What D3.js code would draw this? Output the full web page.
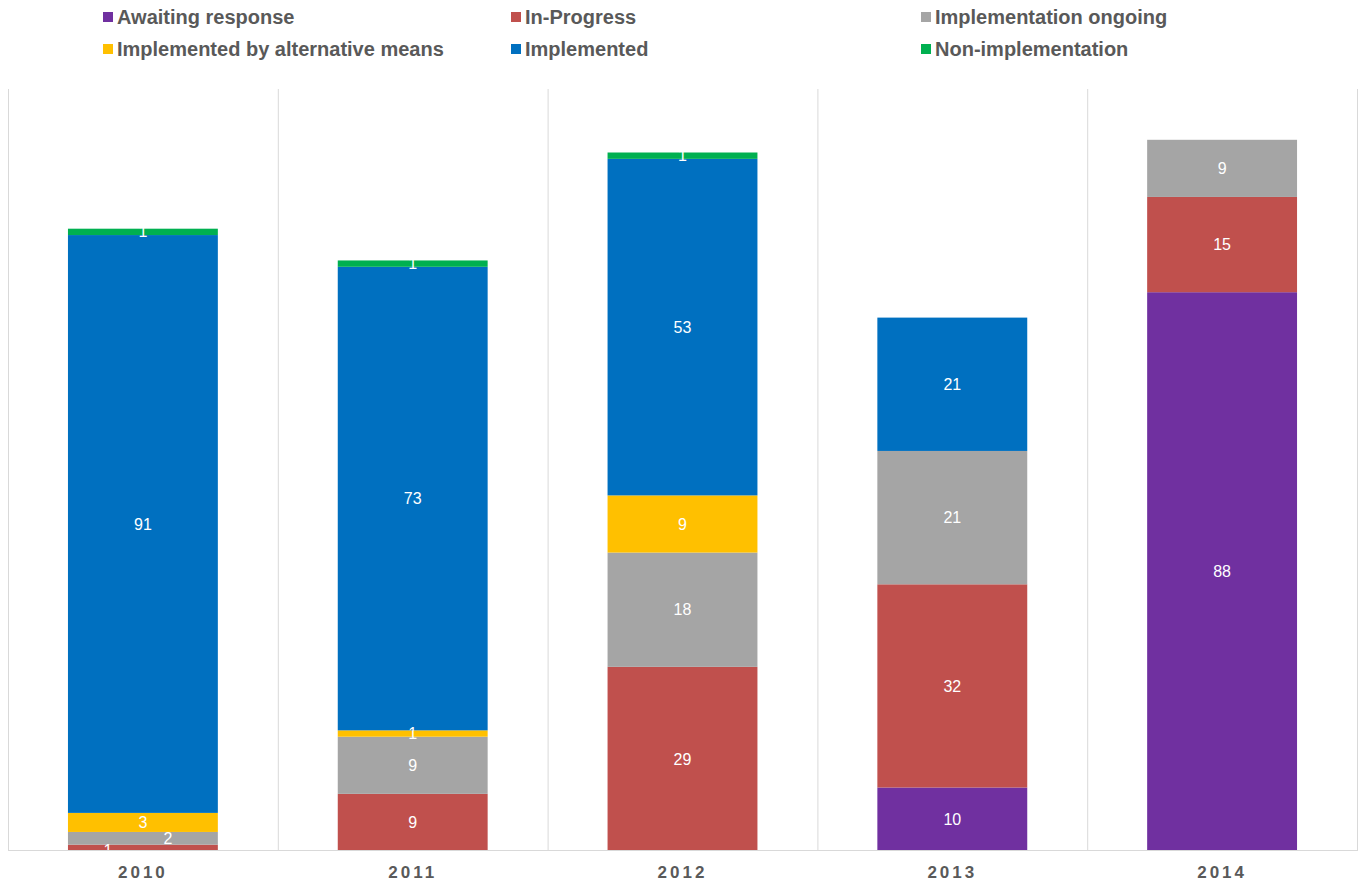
<!DOCTYPE html>
<html><head><meta charset="utf-8">
<script src="https://cdn.jsdelivr.net/npm/d3@7"></script>
<style>body{margin:0;background:#fff;}svg{display:block;}</style>
</head><body><svg id="c" width="1363" height="884"></svg>
<script>
const years = ["2010","2011","2012","2013","2014"];
const seriesNames = ["Awaiting response","In-Progress","Implementation ongoing","Implemented by alternative means","Implemented","Non-implementation"];
const colors = ["#7030A0","#C0504D","#A5A5A5","#FFC000","#0070C0","#00B050"];
const awaiting = [0,0,0,10,88];
const inProgress = [1,9,29,32,15];
const ongoing = [2,9,18,21,9];
const altMeans = [3,1,9,0,0];
const implemented = [91,73,53,21,0];
const nonImpl = [1,1,1,0,0];

(function(){
const seriesVals = [awaiting,inProgress,ongoing,altMeans,implemented,nonImpl];
const rows = years.map((yr,i)=>{const o={year:yr}; seriesNames.forEach((s,k)=>o[s]=seriesVals[k][i]); return o;});
const stack = d3.stack().keys(seriesNames)(rows);

const svg = d3.select("#c");
const pLeft=8,pRight=1357,pTop=89,pBottom=851;
const x = d3.scaleBand().domain(years).range([pLeft,pRight]).paddingInner(0).paddingOuter(0);
const y = d3.scaleLinear().domain([0,120]).range([pBottom,pTop]);
const barW = x.bandwidth()*150/270;

const seps = years.map(d=>x(d)).concat([pRight]);
svg.append("g").selectAll("line").data(seps).join("line")
  .attr("x1",d=>d+0.5).attr("x2",d=>d+0.5).attr("y1",pTop).attr("y2",pBottom)
  .attr("stroke","#d9d9d9").attr("stroke-width",1);

const g = svg.append("g");
stack.forEach((layer,k)=>{
  g.append("g").attr("fill",colors[k]).selectAll("rect").data(layer).join("rect")
    .attr("x",d=>x(d.data.year)+(x.bandwidth()-barW)/2)
    .attr("width",barW)
    .attr("y",d=>y(d[1]))
    .attr("height",d=>y(d[0])-y(d[1]));
});

const offsets = {"In-Progress|2010":[-35,3],"Implementation ongoing|2010":[25,0]};
stack.forEach((layer,k)=>{
  layer.forEach(d=>{
    const v=d[1]-d[0]; if(!v) return;
    const off = offsets[seriesNames[k]+"|"+d.data.year]||[0,0];
    svg.append("text")
      .attr("x",x(d.data.year)+x.bandwidth()/2+off[0])
      .attr("y",(y(d[0])+y(d[1]))/2+off[1])
      .attr("dy","0.35em").attr("text-anchor","middle")
      .attr("fill","#fff").attr("font-family","Liberation Sans, Arial, sans-serif")
      .attr("font-size",16).text(v);
  });
});

const xAxis = svg.append("g").attr("transform",`translate(0,${pBottom-1})`)
  .call(d3.axisBottom(x).tickSize(0).tickPadding(15));
xAxis.select(".domain").attr("stroke","#d9d9d9").attr("d",`M${pLeft},0.5H${pRight+1}`);
xAxis.selectAll("text").attr("font-family","Liberation Sans, Arial, sans-serif")
  .attr("font-size",17).attr("font-weight","bold").attr("fill","#595959")
  .attr("letter-spacing","3px").attr("dy","0.75em");

const legX=[103,511,921], legY=[17,49];
seriesNames.forEach((s,k)=>{
  const cx=legX[k%3], cy=legY[Math.floor(k/3)];
  svg.append("rect").attr("x",cx).attr("y",cy-5).attr("width",10).attr("height",10).attr("fill",colors[k]);
  svg.append("text").attr("x",cx+14).attr("y",cy).attr("dy","0.35em")
    .attr("font-family","Liberation Sans, Arial, sans-serif").attr("font-size",20)
    .attr("font-weight","bold").attr("fill","#595959").text(s);
});
})();
</script></body></html>
